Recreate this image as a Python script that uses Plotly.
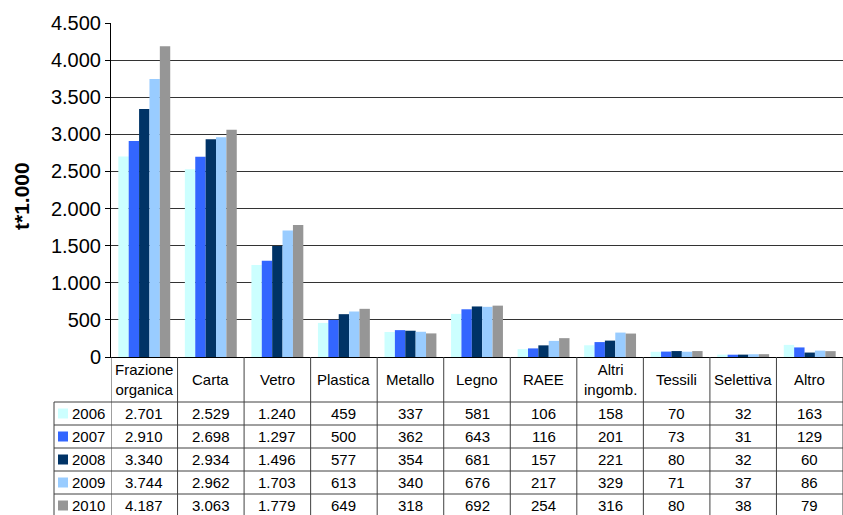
import plotly.graph_objects as go

# Raccolta differenziata per frazione merceologica (migliaia di tonnellate)
categories = ["Frazione<br>organica", "Carta", "Vetro", "Plastica", "Metallo", "Legno",
              "RAEE", "Altri<br>ingomb.", "Tessili", "Selettiva", "Altro"]
years = ["2006", "2007", "2008", "2009", "2010"]
v2006 = [2701, 2529, 1240, 459, 337, 581, 106, 158, 70, 32, 163]
v2007 = [2910, 2698, 1297, 500, 362, 643, 116, 201, 73, 31, 129]
v2008 = [3340, 2934, 1496, 577, 354, 681, 157, 221, 80, 32, 60]
v2009 = [3744, 2962, 1703, 613, 340, 676, 217, 329, 71, 37, 86]
v2010 = [4187, 3063, 1779, 649, 318, 692, 254, 316, 80, 38, 79]
series = [v2006, v2007, v2008, v2009, v2010]
colors = ["#CCFFFF", "#3366FF", "#003366", "#99CCFF", "#969696"]
y_ticks = [0, 500, 1000, 1500, 2000, 2500, 3000, 3500, 4000, 4500]

W, H = 843, 515
ML, MR, MT, MB = 111, 0, 23, 158
PW, PH = W - ML - MR, H - MT - MB
FONT = "Arial, Liberation Sans, sans-serif"


def px_x(x):
    return (x - ML) / PW


def px_y(y):
    return (H - MB - y) / PH


def it(v):
    return f"{v:,}".replace(",", ".")


fig = go.Figure()
xs = list(range(len(categories)))
for name, vals, col in zip(years, series, colors):
    fig.add_trace(go.Bar(x=xs, y=vals, name=name, marker=dict(color=col, line=dict(width=0))))

shapes = []
annotations = []
line_col = "#404040"

# data table under the plot
header_top, header_bot = H - MB, H - MB + 45
row_h = 23
n_rows = len(years)
table_left = 54

# vertical separators between categories
for i in range(len(categories) + 1):
    shapes.append(dict(type="line", xref="x", yref="paper", x0=i - 0.5, x1=i - 0.5,
                       y0=px_y(header_top), y1=px_y(H + 5), line=dict(color=line_col, width=1)))
# left border of legend column
shapes.append(dict(type="line", xref="paper", yref="paper", x0=px_x(table_left), x1=px_x(table_left),
                   y0=px_y(header_bot), y1=px_y(H + 5), line=dict(color=line_col, width=1)))
# horizontal row lines
for r in range(n_rows + 1):
    yy = header_bot + r * row_h
    shapes.append(dict(type="line", xref="paper", yref="paper", x0=px_x(table_left), x1=1.0,
                       y0=px_y(yy), y1=px_y(yy), line=dict(color=line_col, width=1)))

# header labels
for i, c in enumerate(categories):
    annotations.append(dict(x=i, y=px_y((header_top + header_bot) / 2), xref="x", yref="paper",
                            text=c, showarrow=False, font=dict(family=FONT, size=15, color="black"),
                            xanchor="center", yanchor="middle"))

# rows: legend key + values
for r, (name, vals, col) in enumerate(zip(years, series, colors)):
    yc = header_bot + r * row_h + row_h / 2
    shapes.append(dict(type="rect", xref="paper", yref="paper",
                       x0=px_x(58), x1=px_x(68), y0=px_y(yc - 5), y1=px_y(yc + 5),
                       fillcolor=col, line=dict(width=0)))
    annotations.append(dict(x=px_x(70), y=px_y(yc), xref="paper", yref="paper", text=name,
                            showarrow=False, font=dict(family=FONT, size=15, color="black"),
                            xanchor="left", yanchor="middle"))
    for i, v in enumerate(vals):
        annotations.append(dict(x=i, y=px_y(yc), xref="x", yref="paper", text=it(v),
                                showarrow=False, font=dict(family=FONT, size=15, color="black"),
                                xanchor="center", yanchor="middle"))

# y-axis title
annotations.append(dict(x=px_x(21), y=px_y(196), xref="paper", yref="paper", text="<b>t*1.000</b>",
                        textangle=-90, showarrow=False, font=dict(family=FONT, size=21, color="black"),
                        xanchor="center", yanchor="middle"))

fig.update_layout(
    width=W, height=H,
    margin=dict(l=ML, r=MR, t=MT, b=MB, pad=0),
    paper_bgcolor="white", plot_bgcolor="white",
    barmode="group", bargap=0.22, bargroupgap=0,
    showlegend=False,
    separators=",.",
    font=dict(family=FONT, color="black"),
    shapes=shapes, annotations=annotations,
    xaxis=dict(range=[-0.5, len(categories) - 0.5], showticklabels=False, ticks="",
               showgrid=False, zeroline=False, showline=True, linecolor="black", linewidth=1),
    yaxis=dict(range=[0, 4500], tickvals=y_ticks, tickformat=",d",
               tickfont=dict(family=FONT, size=20, color="black"),
               ticks="outside", ticklen=5, tickcolor="black",
               showgrid=True, gridcolor="#333333", gridwidth=1, zeroline=False,
               showline=True, linecolor="black", linewidth=1),
)

fig.write_html("out.html")
